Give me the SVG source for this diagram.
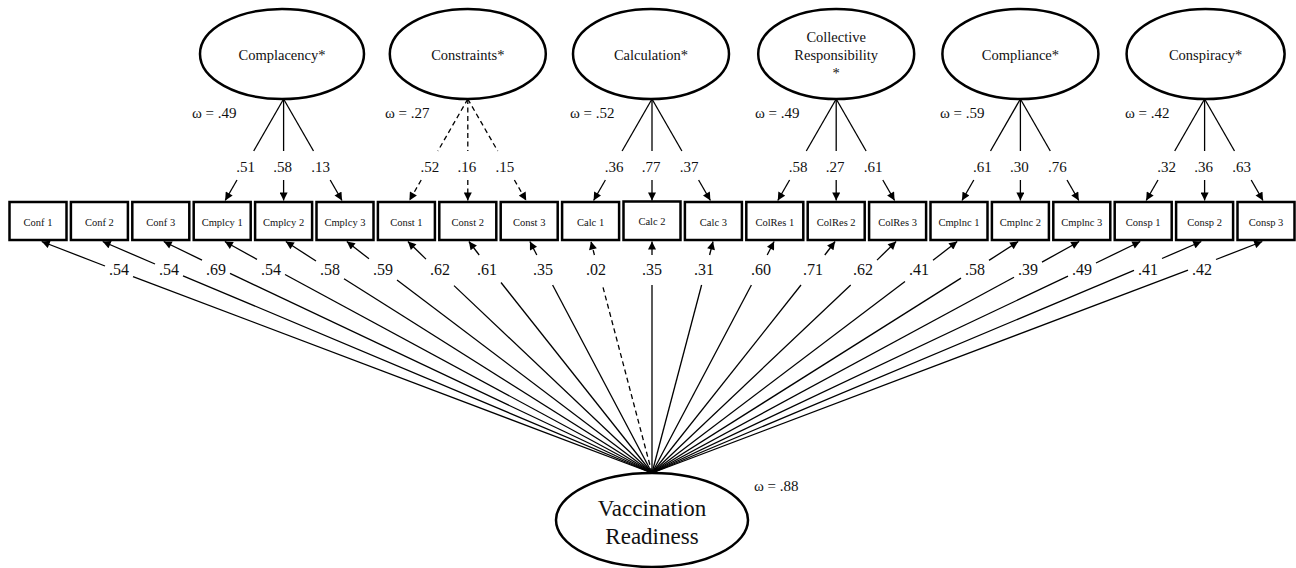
<svg xmlns="http://www.w3.org/2000/svg" width="1296" height="568" viewBox="0 0 1296 568">
<style>
text{font-family:"Liberation Serif","Times New Roman",serif;fill:#111}
.lat{fill:#fff;stroke:#000;stroke-width:2.5}
.box{fill:#fff;stroke:#000;stroke-width:2.5}
.bl{font-size:10.5px;text-anchor:middle}
.ln{font-size:14.5px;text-anchor:middle}
.w{font-size:15px}
.ld{font-size:15px;text-anchor:middle}
.lb{font-size:16px;text-anchor:middle}
#connectors line{stroke:#000;stroke-width:1.3;fill:none}
#connectors .a{marker-end:url(#arr)}
#connectors .d{stroke-dasharray:5 3.5}
</style>
<defs>
<marker id="arr" viewBox="0 0 10 10" refX="10" refY="5" markerWidth="9" markerHeight="8" markerUnits="userSpaceOnUse" orient="auto"><path d="M0,0 L10,5 L0,10 z" fill="#000"/></marker>
</defs>
<rect width="1296" height="568" fill="#fff"/>

<g id="connectors">
<!-- Complacency -->
<line x1="283.6" y1="99" x2="253.7" y2="151"/><line class="a" x1="237" y1="180" x2="225.2" y2="200.5"/>
<line x1="283.6" y1="99" x2="283.6" y2="151"/><line class="a" x1="283.6" y1="180" x2="283.6" y2="200.5"/>
<line x1="283.6" y1="99" x2="313.5" y2="151"/><line class="a" x1="330.2" y1="180" x2="342" y2="200.5"/>
<!-- Constraints (dashed) -->
<line class="d" x1="467.8" y1="99" x2="437.9" y2="151"/><line class="a d" x1="421.2" y1="180" x2="409.4" y2="200.5"/>
<line class="d" x1="467.8" y1="99" x2="467.8" y2="151"/><line class="a d" x1="467.8" y1="180" x2="467.8" y2="200.5"/>
<line class="d" x1="467.8" y1="99" x2="497.7" y2="151"/><line class="a d" x1="514.4" y1="180" x2="526.2" y2="200.5"/>
<!-- Calculation -->
<line x1="652" y1="99" x2="622.1" y2="151"/><line class="a" x1="605.4" y1="180" x2="593.6" y2="200.5"/>
<line x1="652" y1="99" x2="652" y2="151"/><line class="a" x1="652" y1="180" x2="652" y2="200.5"/>
<line x1="652" y1="99" x2="681.9" y2="151"/><line class="a" x1="698.6" y1="180" x2="710.4" y2="200.5"/>
<!-- Collective Responsibility -->
<line x1="836.2" y1="99" x2="806.3" y2="151"/><line class="a" x1="789.6" y1="180" x2="777.8" y2="200.5"/>
<line x1="836.2" y1="99" x2="836.2" y2="151"/><line class="a" x1="836.2" y1="180" x2="836.2" y2="200.5"/>
<line x1="836.2" y1="99" x2="866.1" y2="151"/><line class="a" x1="882.8" y1="180" x2="894.6" y2="200.5"/>
<!-- Compliance -->
<line x1="1020.4" y1="99" x2="990.5" y2="151"/><line class="a" x1="973.8" y1="180" x2="962" y2="200.5"/>
<line x1="1020.4" y1="99" x2="1020.4" y2="151"/><line class="a" x1="1020.4" y1="180" x2="1020.4" y2="200.5"/>
<line x1="1020.4" y1="99" x2="1050.3" y2="151"/><line class="a" x1="1067" y1="180" x2="1078.8" y2="200.5"/>
<!-- Conspiracy -->
<line x1="1204.6" y1="99" x2="1174.7" y2="151"/><line class="a" x1="1158" y1="180" x2="1146.2" y2="200.5"/>
<line x1="1204.6" y1="99" x2="1204.6" y2="151"/><line class="a" x1="1204.6" y1="180" x2="1204.6" y2="200.5"/>
<line x1="1204.6" y1="99" x2="1234.5" y2="151"/><line class="a" x1="1251.2" y1="180" x2="1263" y2="200.5"/>

<!-- Vaccination Readiness to indicators -->
<line class="a" x1="105" y1="266" x2="41.7" y2="241.5"/><line x1="652" y1="473" x2="133" y2="276.6"/>
<line class="a" x1="155" y1="264" x2="102.7" y2="241.5"/><line x1="652" y1="473" x2="183" y2="275.8"/>
<line class="a" x1="202" y1="260.1" x2="163.7" y2="241.5"/><line x1="652" y1="473" x2="230" y2="273.4"/>
<line class="a" x1="257" y1="259.4" x2="224.8" y2="241.5"/><line x1="652" y1="473" x2="285" y2="274.5"/>
<line class="a" x1="316" y1="261" x2="285.8" y2="241.5"/><line x1="652" y1="473" x2="344" y2="278.7"/>
<line class="a" x1="369" y1="258.8" x2="346.8" y2="241.5"/><line x1="652" y1="473" x2="397" y2="280"/>
<line class="a" x1="426" y1="259.1" x2="407.9" y2="241.5"/><line x1="652" y1="473" x2="454" y2="285.6"/>
<line class="a" x1="479.2" y1="255" x2="468.9" y2="241.5"/><line x1="652" y1="473" x2="501" y2="282.5"/>
<line class="a" x1="536.8" y1="255" x2="529.9" y2="241.5"/><line x1="652" y1="473" x2="552.6" y2="285"/>
<line class="a d" x1="594.4" y1="255" x2="591" y2="241.5"/><line class="d" x1="652" y1="473" x2="602.4" y2="285"/>
<line class="a" x1="652" y1="255" x2="652" y2="241.5"/><line x1="652" y1="473" x2="652" y2="285"/>
<line class="a" x1="709.6" y1="255" x2="713" y2="241.5"/><line x1="652" y1="473" x2="701.6" y2="285"/>
<line class="a" x1="767.2" y1="255" x2="774.1" y2="241.5"/><line x1="652" y1="473" x2="751.4" y2="285"/>
<line class="a" x1="824.8" y1="255" x2="835.1" y2="241.5"/><line x1="652" y1="473" x2="801" y2="285"/>
<line class="a" x1="877" y1="260.1" x2="896.1" y2="241.5"/><line x1="652" y1="473" x2="850.7" y2="285"/>
<line class="a" x1="933" y1="260.3" x2="957.2" y2="241.5"/><line x1="652" y1="473" x2="905" y2="281.5"/>
<line class="a" x1="989" y1="260.4" x2="1018.2" y2="241.5"/><line x1="652" y1="473" x2="961" y2="278.1"/>
<line class="a" x1="1042" y1="262.1" x2="1079.2" y2="241.5"/><line x1="652" y1="473" x2="1014" y2="277.3"/>
<line class="a" x1="1096" y1="263" x2="1140.3" y2="241.5"/><line x1="652" y1="473" x2="1068" y2="276.2"/>
<line class="a" x1="1162" y1="258.5" x2="1201.3" y2="241.5"/><line x1="652" y1="473" x2="1134" y2="270.3"/>
<line class="a" x1="1216" y1="259.5" x2="1262.3" y2="241.5"/><line x1="652" y1="473" x2="1188" y2="270.1"/>
</g>

<g id="loadings">
<text class="ld" x="245.6" y="172">.51</text><text class="ld" x="282.6" y="172">.58</text><text class="ld" x="320.6" y="172">.13</text>
<text class="ld" x="429.8" y="172">.52</text><text class="ld" x="466.8" y="172">.16</text><text class="ld" x="504.8" y="172">.15</text>
<text class="ld" x="614" y="172">.36</text><text class="ld" x="651" y="172">.77</text><text class="ld" x="689" y="172">.37</text>
<text class="ld" x="798.2" y="172">.58</text><text class="ld" x="835.2" y="172">.27</text><text class="ld" x="873.2" y="172">.61</text>
<text class="ld" x="982.4" y="172">.61</text><text class="ld" x="1019.4" y="172">.30</text><text class="ld" x="1057.4" y="172">.76</text>
<text class="ld" x="1166.6" y="172">.32</text><text class="ld" x="1203.6" y="172">.36</text><text class="ld" x="1241.6" y="172">.63</text>
<text class="lb" x="119" y="275">.54</text><text class="lb" x="169" y="275">.54</text><text class="lb" x="216" y="275">.69</text>
<text class="lb" x="271" y="275">.54</text><text class="lb" x="330" y="275">.58</text><text class="lb" x="383" y="275">.59</text>
<text class="lb" x="440" y="275">.62</text><text class="lb" x="487" y="275">.61</text><text class="lb" x="543" y="275">.35</text>
<text class="lb" x="596" y="275">.02</text><text class="lb" x="652" y="275">.35</text><text class="lb" x="704" y="275">.31</text>
<text class="lb" x="761" y="275">.60</text><text class="lb" x="813" y="275">.71</text><text class="lb" x="863" y="275">.62</text>
<text class="lb" x="919" y="275">.41</text><text class="lb" x="975" y="275">.58</text><text class="lb" x="1028" y="275">.39</text>
<text class="lb" x="1082" y="275">.49</text><text class="lb" x="1148" y="275">.41</text><text class="lb" x="1202" y="275">.42</text>
</g>

<g id="complacency"><ellipse class="lat" cx="282" cy="54" rx="82" ry="45"/><text class="ln" x="282" y="60">Complacency*</text><text class="w" x="192" y="118">ω = .49</text></g>
<g id="constraints"><ellipse class="lat" cx="467.8" cy="54" rx="78" ry="45"/><text class="ln" x="467.8" y="60">Constraints*</text><text class="w" x="385" y="118">ω = .27</text></g>
<g id="calculation"><ellipse class="lat" cx="651" cy="54" rx="78" ry="45"/><text class="ln" x="651" y="60">Calculation*</text><text class="w" x="570" y="118">ω = .52</text></g>
<g id="collective-responsibility"><ellipse class="lat" cx="836.2" cy="54" rx="78" ry="45"/><text class="ln" x="836.2" y="42">Collective</text><text class="ln" x="836.2" y="60">Responsibility</text><text class="ln" x="836.2" y="78">*</text><text class="w" x="755" y="118">ω = .49</text></g>
<g id="compliance"><ellipse class="lat" cx="1020.4" cy="54" rx="78" ry="45"/><text class="ln" x="1020.4" y="60">Compliance*</text><text class="w" x="940" y="118">ω = .59</text></g>
<g id="conspiracy"><ellipse class="lat" cx="1205.6" cy="54" rx="79" ry="45"/><text class="ln" x="1205.6" y="60">Conspiracy*</text><text class="w" x="1125" y="118">ω = .42</text></g>

<g id="conf1"><rect class="box" x="9.5" y="202" width="57" height="38"/><text class="bl" x="38" y="225.5">Conf 1</text></g>
<g id="conf2"><rect class="box" x="70.9" y="202" width="57" height="38"/><text class="bl" x="99.4" y="225.5">Conf 2</text></g>
<g id="conf3"><rect class="box" x="132.3" y="202" width="57" height="38"/><text class="bl" x="160.8" y="225.5">Conf 3</text></g>
<g id="cmplcy1"><rect class="box" x="193.7" y="202" width="57" height="38"/><text class="bl" x="222.2" y="225.5">Cmplcy 1</text></g>
<g id="cmplcy2"><rect class="box" x="255.1" y="202" width="57" height="38"/><text class="bl" x="283.6" y="225.5">Cmplcy 2</text></g>
<g id="cmplcy3"><rect class="box" x="316.5" y="202" width="57" height="38"/><text class="bl" x="345" y="225.5">Cmplcy 3</text></g>
<g id="const1"><rect class="box" x="377.9" y="202" width="57" height="38"/><text class="bl" x="406.4" y="225.5">Const 1</text></g>
<g id="const2"><rect class="box" x="439.3" y="202" width="57" height="38"/><text class="bl" x="467.8" y="225.5">Const 2</text></g>
<g id="const3"><rect class="box" x="500.7" y="202" width="57" height="38"/><text class="bl" x="529.2" y="225.5">Const 3</text></g>
<g id="calc1"><rect class="box" x="562.1" y="202" width="57" height="38"/><text class="bl" x="590.6" y="225.5">Calc 1</text></g>
<g id="calc2"><rect class="box" x="623.5" y="201.5" width="57" height="38.5" stroke-width="2.8"/><text class="bl" x="652" y="224.5">Calc 2</text></g>
<g id="calc3"><rect class="box" x="684.9" y="202" width="57" height="38"/><text class="bl" x="713.4" y="225.5">Calc 3</text></g>
<g id="colres1"><rect class="box" x="746.3" y="202" width="57" height="38"/><text class="bl" x="774.8" y="225.5">ColRes 1</text></g>
<g id="colres2"><rect class="box" x="807.7" y="202" width="57" height="38"/><text class="bl" x="836.2" y="225.5">ColRes 2</text></g>
<g id="colres3"><rect class="box" x="869.1" y="202" width="57" height="38"/><text class="bl" x="897.6" y="225.5">ColRes 3</text></g>
<g id="cmplnc1"><rect class="box" x="930.5" y="202" width="57" height="38"/><text class="bl" x="959" y="225.5">Cmplnc 1</text></g>
<g id="cmplnc2"><rect class="box" x="991.9" y="202" width="57" height="38"/><text class="bl" x="1020.4" y="225.5">Cmplnc 2</text></g>
<g id="cmplnc3"><rect class="box" x="1053.3" y="202" width="57" height="38"/><text class="bl" x="1081.8" y="225.5">Cmplnc 3</text></g>
<g id="consp1"><rect class="box" x="1114.7" y="202" width="57" height="38"/><text class="bl" x="1143.2" y="225.5">Consp 1</text></g>
<g id="consp2"><rect class="box" x="1176.1" y="202" width="57" height="38"/><text class="bl" x="1204.6" y="225.5">Consp 2</text></g>
<g id="consp3"><rect class="box" x="1237.5" y="202" width="57" height="38"/><text class="bl" x="1266" y="225.5">Consp 3</text></g>

<g id="vaccination-readiness"><ellipse class="lat" cx="652" cy="520" rx="96" ry="47"/><text x="652" y="516" font-size="23" text-anchor="middle">Vaccination</text><text x="652" y="544" font-size="23" text-anchor="middle">Readiness</text><text class="w" x="754" y="491">ω = .88</text></g>
</svg>
